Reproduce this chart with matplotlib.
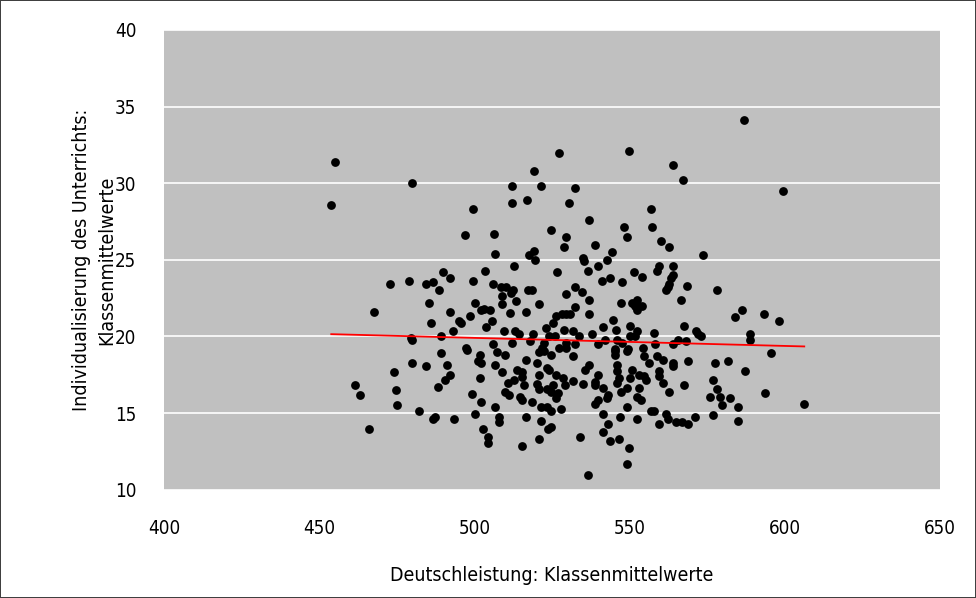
import matplotlib
matplotlib.use("Agg")
import matplotlib.pyplot as plt
from matplotlib import font_manager

# pick a narrow sans if one is around
names = {f.name for f in font_manager.fontManager.ttflist}
stretches = {(f.name, f.stretch) for f in font_manager.fontManager.ttflist}
if 'Liberation Sans Narrow' in names:
    family, stretch, tsize, lsize = 'Liberation Sans Narrow', 'normal', 15, 16
elif any(n == 'DejaVu Sans' and s == 'condensed' for n, s in stretches):
    family, stretch, tsize, lsize = 'DejaVu Sans', 'condensed', 13.5, 14
else:
    family, stretch, tsize, lsize = 'DejaVu Sans', 'normal', 12.5, 12.5
plt.rcParams['font.family'] = [family, 'DejaVu Sans']
plt.rcParams['font.stretch'] = stretch

# class means: German score (x) vs. individualised teaching (y)
deutsch = [
    455.0, 453.9, 480.0,
    527.4, 519.3, 512.2, 521.5, 517.0, 512.2, 499.6, 530.6,
    549.7, 563.9, 567.2, 532.3, 556.8, 537.1,
    586.8, 599.3,
    489.9, 492.1, 478.9, 472.9, 484.4, 486.8, 488.7, 485.5, 467.6, 492.1, 486.1, 479.5, 480.0, 489.3,
    496.9, 506.2, 524.8, 529.5, 529.0, 506.7, 517.6, 519.2, 519.7, 512.8, 503.5, 499.6, 506.1, 508.5,
    510.1, 512.4, 511.7, 517.2, 518.6, 526.6, 508.9, 513.4, 508.9, 520.9, 529.5, 500.2, 498.6, 502.3,
    503.0, 505.1, 511.5, 516.5, 495.1, 495.8, 505.7, 503.6, 493.1, 509.4, 513.2, 514.3, 523.1, 526.3,
    528.1, 529.5, 525.2, 529.0, 518.8, 524.1, 526.0, 506.1, 512.2, 517.9, 522.5, 497.4, 521.7, 527.4,
    529.5,
    548.1, 557.3, 549.2, 560.1, 562.7, 538.9, 544.2, 542.7, 535.0, 535.2, 539.9, 536.7, 559.5, 558.9,
    564.0, 551.4, 554.1, 541.0, 543.8, 547.6, 564.0, 563.3, 562.8, 562.3, 561.7, 568.4, 532.3, 534.6,
    537.1, 547.4, 550.7, 552.4, 551.9, 554.1, 552.4, 532.3, 530.7, 537.1, 566.6, 544.8, 550.2, 541.5,
    545.8, 531.9, 552.4, 551.9, 557.9, 567.7, 533.6, 537.8, 542.1, 545.9, 547.6, 550.1, 565.6, 532.3,
    539.8, 545.2, 549.6, 554.2, 558.3, 564.0, 568.2,
    573.6, 578.1, 586.2, 584.1, 593.3, 598.1, 571.4, 572.2, 573.1, 588.9, 588.9,
    489.3, 480.0, 484.4, 491.3, 492.1, 474.1, 490.4, 488.2, 461.5, 463.1, 474.6, 475.2, 482.3, 486.6,
    487.3, 466.1,
    497.5, 501.8, 507.3, 509.9, 516.5, 501.3, 502.3, 506.7, 508.9, 501.8, 520.2, 520.8, 522.5, 524.7,
    529.5, 513.8, 515.4, 515.3, 512.8, 511.0, 520.8, 523.5, 524.2, 526.3, 528.5, 529.1, 525.2, 516.0,
    520.2, 520.8, 523.5, 524.7, 526.9, 526.4, 509.9, 511.1, 514.8, 515.4, 499.1, 502.3, 518.7, 506.7,
    500.2, 521.5, 523.5, 524.7, 528.0, 493.6, 507.8, 507.8, 516.5, 521.5, 502.9, 524.7, 523.8, 504.5,
    504.5, 520.9, 515.4,
    545.4, 545.4, 549.2, 554.6, 558.9, 560.7, 556.2, 563.9, 563.9, 568.7, 531.9, 537.1, 535.5, 545.9,
    545.9, 546.5, 550.8, 553.0, 554.6, 555.2, 550.2, 559.6, 559.6, 560.7, 531.9, 535.0, 538.9, 539.9,
    541.5, 538.9, 545.9, 547.1, 549.2, 553.0, 567.6, 562.8, 543.1, 542.6, 540.0, 538.9, 552.5, 553.6,
    549.2, 541.5, 547.0, 552.4, 556.8, 558.0, 561.7, 562.3, 559.6, 564.9, 566.8, 568.7, 543.2, 541.5,
    534.0, 543.7, 546.5, 549.7, 549.2, 536.6,
    595.5, 577.6, 581.8, 587.3, 576.9, 578.1, 575.8, 579.1, 582.3, 579.7, 585.0, 593.8, 606.3, 571.0,
    576.9, 585.0,
]
individual = [
    31.4, 28.6, 30.0,
    32.0, 30.8, 29.8, 29.8, 28.9, 28.7, 28.3, 28.7,
    32.1, 31.2, 30.2, 29.7, 28.3, 27.6,
    34.1, 29.5,
    24.2, 23.8, 23.65, 23.4, 23.4, 23.55, 23.0, 22.2, 21.6, 21.6, 20.9, 19.9, 19.8, 20.0,
    26.6, 26.7, 26.96, 26.5, 25.85, 25.4, 25.3, 25.6, 24.98, 24.6, 24.3, 23.65, 23.4, 23.2,
    23.2, 23.0, 22.85, 23.0, 23.0, 24.2, 22.65, 22.3, 22.1, 22.1, 22.8, 22.2, 21.35, 21.7,
    21.8, 21.7, 21.5, 21.6, 21.0, 20.9, 21.0, 20.6, 20.35, 20.35, 20.37, 20.15, 20.57, 21.35,
    21.45, 21.45, 20.9, 20.45, 20.15, 20.0, 20.0, 19.5, 19.6, 19.7, 19.6, 19.25, 19.25, 19.25,
    19.6,
    27.15, 27.15, 26.5, 26.2, 25.85, 25.96, 25.5, 24.98, 25.1, 24.9, 24.6, 24.3, 24.6, 24.3,
    24.6, 24.2, 23.9, 23.65, 23.8, 23.55, 23.98, 23.8, 23.45, 23.25, 23.0, 23.3, 23.2, 22.9,
    22.4, 22.2, 22.2, 22.4, 22.0, 22.0, 21.7, 21.9, 21.45, 21.45, 22.4, 21.1, 20.7, 20.6,
    20.45, 20.35, 20.35, 20.0, 20.24, 20.7, 20.0, 20.13, 19.8, 19.8, 19.6, 20.0, 19.8, 19.5,
    19.5, 19.2, 19.2, 19.25, 19.5, 19.5, 19.7,
    25.3, 23.0, 21.7, 21.25, 21.45, 21.0, 20.35, 20.15, 20.0, 20.15, 19.8,
    18.9, 18.27, 18.05, 18.15, 17.5, 17.7, 17.15, 16.7, 16.83, 16.15, 16.5, 15.5, 15.17, 14.63,
    14.76, 13.96,
    19.13, 18.8, 19.0, 18.8, 18.48, 18.37, 18.27, 18.15, 17.7, 17.28, 18.27, 19.0, 19.07, 18.8,
    19.24, 17.83, 17.7, 17.37, 17.17, 16.96, 17.5, 17.93, 17.8, 17.5, 17.28, 16.83, 16.83, 16.83,
    16.93, 16.6, 16.6, 16.4, 16.28, 15.96, 16.4, 16.2, 16.08, 15.87, 16.26, 15.72, 15.72, 15.39,
    14.94, 15.39, 15.39, 15.15, 15.28, 14.63, 14.72, 14.39, 14.72, 14.5, 13.98, 14.09, 13.96, 13.41,
    13.08, 13.3, 12.87,
    19.02, 18.8, 19.02, 18.7, 18.7, 18.48, 18.27, 18.27, 18.05, 18.37, 18.7, 18.15, 17.83, 18.15,
    17.72, 17.28, 17.83, 17.5, 17.39, 17.17, 17.28, 17.72, 17.39, 16.96, 17.07, 16.93, 17.05, 17.5,
    16.63, 16.85, 16.96, 16.41, 16.63, 16.63, 16.83, 16.39, 16.18, 15.98, 15.85, 15.61, 16.07, 15.85,
    15.39, 14.94, 14.72, 14.61, 15.17, 15.17, 14.96, 14.63, 14.28, 14.39, 14.39, 14.28, 14.28, 13.74,
    13.41, 13.17, 13.31, 12.74, 11.65, 10.98,
    18.92, 18.27, 18.37, 17.72, 17.15, 16.6, 16.07, 16.07, 15.96, 15.5, 15.39, 16.28, 15.61, 14.74,
    14.85, 14.5,
]

# linear trend line (Excel style), from min to max of x
trend_x = [453.9, 606.3]
trend_y = [20.15, 19.35]

x_ticks = [400, 450, 500, 550, 600, 650]
y_ticks = [10, 15, 20, 25, 30, 35, 40]

fig = plt.figure(figsize=(9.76, 5.98), dpi=100, edgecolor='#404040', linewidth=1.2)
ax = fig.add_axes([0.168, 0.181, 0.795, 0.769])
ax.set_facecolor('#c0c0c0')

ax.scatter(deutsch, individual, s=40, color='black', linewidths=0, zorder=3)
ax.plot(trend_x, trend_y, color='#ff0000', linewidth=1.3, zorder=4)

ax.set_xlim(400, 650)
ax.set_ylim(10, 40)
ax.set_xticks(x_ticks)
ax.set_yticks(y_ticks)
ax.yaxis.grid(True, color='white', linewidth=1.2)
ax.set_axisbelow(True)
for s in ax.spines.values():
    s.set_visible(False)
ax.tick_params(length=0, labelsize=tsize, colors='black')
ax.tick_params(axis='x', pad=21)
ax.tick_params(axis='y', pad=20)

ax.set_xlabel('Deutschleistung: Klassenmittelwerte', fontsize=lsize, va='top')
ax.xaxis.set_label_coords(0.5, -0.166)
ax.set_ylabel('Individualisierung des Unterrichts:\nKlassenmittelwerte', fontsize=lsize,
              linespacing=1.45)
ax.yaxis.set_label_coords(-0.061, 0.5)

fig.savefig('out.png', dpi=100, edgecolor=fig.get_edgecolor())
